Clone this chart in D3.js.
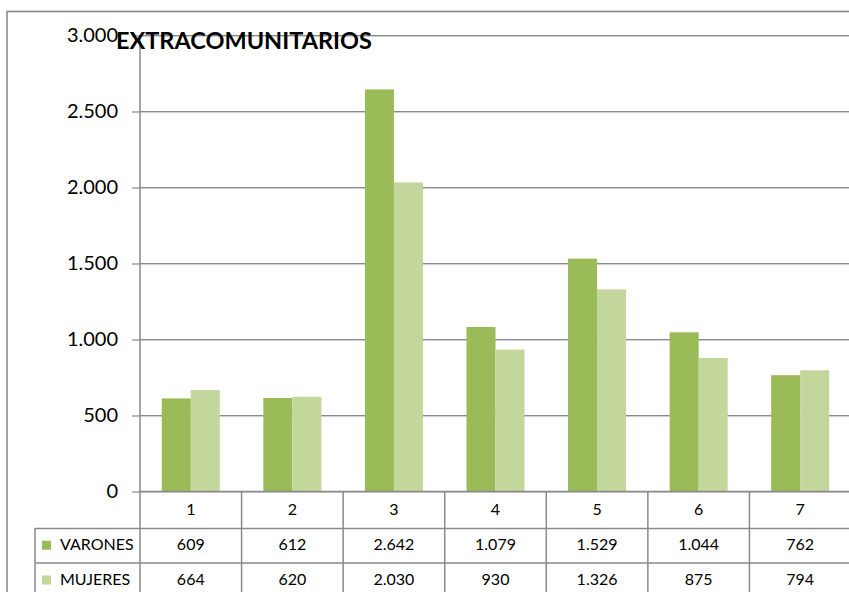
<!DOCTYPE html>
<html><head><meta charset="utf-8">
<script src="https://cdn.jsdelivr.net/npm/d3@7"></script>
<style>html,body{margin:0;padding:0;background:#fff;overflow:hidden}svg{display:block;font-family:Lato,"Open Sans",sans-serif}</style>
</head><body>
<svg id="c" width="849" height="592"></svg>
<script>
const title = "EXTRACOMUNITARIOS";
const categories = ["1","2","3","4","5","6","7"];
const seriesNames = ["VARONES","MUJERES"];
const varones = [609,612,2642,1079,1529,1044,762];
const mujeres = [664,620,2030,930,1326,875,794];
const yTicks = [0,500,1000,1500,2000,2500,3000];
const colors = ["#9BBB59","#C3D69B"];

const seriesValues = [varones, mujeres];
const loc = d3.formatLocale({decimal:",", thousands:".", grouping:[3], currency:["","€"]});
const fmt = loc.format(",d");

const svg = d3.select("#c");
const plotL = 140, plotR = 851, plotT = 35, zeroY = 491;
const rowH = [37, 34.5, 35];
const lineCol = "#8a8a8a", shadowCol = "#cfcfcf";

const x = d3.scaleBand().domain(categories).range([plotL, plotR]).paddingInner(0).paddingOuter(0);
const xs = d3.scaleBand().domain(seriesNames).range([0, x.bandwidth()]).paddingInner(0).paddingOuter(0.75);
const y = d3.scaleLinear().domain([0, 3000]).range([zeroY, plotT]);

// outer chart border
svg.append("rect").attr("x",7).attr("y",11.5).attr("width",900).attr("height",700)
  .attr("fill","none").attr("stroke",lineCol).attr("stroke-width",1.6);

// gridlines
const grid = svg.append("g");
yTicks.forEach(t => {
  grid.append("line").attr("x1",plotL).attr("x2",plotR).attr("y1",y(t)+1.5).attr("y2",y(t)+1.5)
    .attr("stroke",shadowCol).attr("stroke-width",1);
  grid.append("line").attr("x1",plotL).attr("x2",plotR).attr("y1",y(t)+0.5).attr("y2",y(t)+0.5)
    .attr("stroke",lineCol).attr("stroke-width",1.2);
});

// bars
const bars = svg.append("g");
seriesNames.forEach((s, si) => {
  bars.selectAll(null).data(categories).enter().append("rect")
    .attr("x", c => x(c) + xs(s))
    .attr("width", xs.bandwidth())
    .attr("y", (c, i) => y(seriesValues[si][i]))
    .attr("height", (c, i) => zeroY - y(seriesValues[si][i]))
    .attr("fill", colors[si]);
});

// y axis
const yAxis = d3.axisLeft(y).tickValues(yTicks).tickFormat(fmt).tickSize(8).tickPadding(14);
const ga = svg.append("g").attr("transform",`translate(${plotL},0)`).call(yAxis);
ga.select(".domain").remove();
ga.selectAll(".tick line").attr("stroke",lineCol).attr("stroke-width",1.2).attr("transform","translate(0,0.5)");
ga.selectAll(".tick text").attr("font-size",20).attr("fill","#000").attr("font-family","Lato");
// axis vertical line (through header row)
svg.append("line").attr("x1",plotL).attr("x2",plotL).attr("y1",plotT).attr("y2",zeroY+rowH[0]+rowH[1]+rowH[2]+10)
  .attr("stroke",lineCol).attr("stroke-width",1.5);

// data table
const tbl = svg.append("g");
const r0 = zeroY, r1 = zeroY + rowH[0], r2 = r1 + rowH[1], r3 = r2 + rowH[2];
const tleft = 35;
[[plotL, r0],[tleft, r1],[tleft, r2]].forEach(([x0, yy]) => {
  tbl.append("line").attr("x1",x0).attr("x2",plotR).attr("y1",yy+0.5).attr("y2",yy+0.5)
    .attr("stroke",lineCol).attr("stroke-width",1.5);
});
categories.forEach(c => {
  tbl.append("line").attr("x1",x(c)+x.bandwidth()).attr("x2",x(c)+x.bandwidth()).attr("y1",r0).attr("y2",r3+10)
    .attr("stroke",lineCol).attr("stroke-width",1.5);
});
tbl.append("line").attr("x1",tleft).attr("x2",tleft).attr("y1",r1).attr("y2",r3+10)
  .attr("stroke",lineCol).attr("stroke-width",1.5);

tbl.selectAll(null).data(categories).enter().append("text")
  .attr("x", c => x(c) + x.bandwidth()/2).attr("y", (r0+r1)/2 + 1)
  .attr("text-anchor","middle").attr("dominant-baseline","middle")
  .attr("font-size",16).text(c => c);

seriesNames.forEach((s, si) => {
  const ry0 = si === 0 ? r1 : r2, ry1 = si === 0 ? r2 : r3;
  const cy = (ry0 + ry1)/2;
  tbl.append("rect").attr("x",42).attr("y",cy-4.5).attr("width",9).attr("height",9).attr("fill",colors[si]);
  tbl.append("text").attr("x",60).attr("y",cy+1).attr("dominant-baseline","middle")
    .attr("font-size",16).text(s);
  tbl.selectAll(null).data(categories).enter().append("text")
    .attr("x", c => x(c) + x.bandwidth()/2).attr("y", cy+1)
    .attr("text-anchor","middle").attr("dominant-baseline","middle")
    .attr("font-size",16).text((c,i) => fmt(seriesValues[si][i]));
});

svg.append("text").attr("x",116).attr("y",49).attr("font-size",23.5).attr("font-weight","bold")
  .attr("fill","#000").text(title);
</script>
</body></html>
